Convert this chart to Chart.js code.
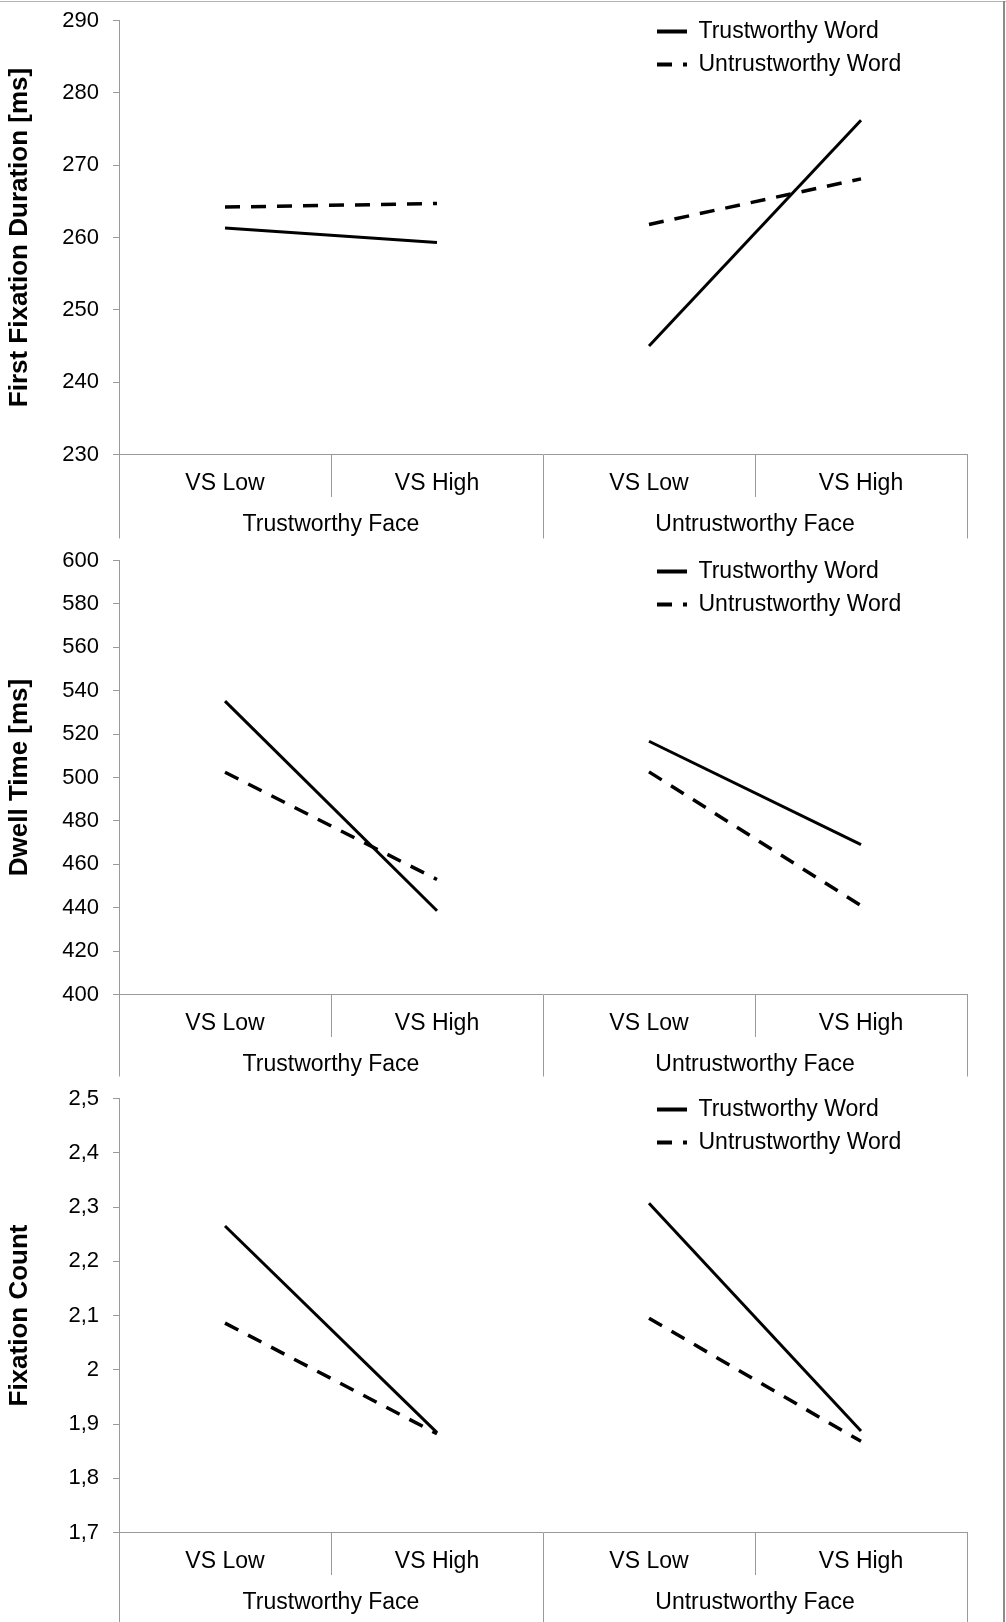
<!DOCTYPE html>
<html lang="en">
<head>
  <meta charset="UTF-8">
  <title>Eye tracking measures by face and word trustworthiness</title>
  <script src="https://cdn.jsdelivr.net/npm/chart.js"></script>
  <style>
    html, body { margin: 0; padding: 0; background: #fff; }
    body { width: 1006px; height: 1622px; position: relative; overflow: hidden; }
    .panel { position: absolute; left: 0; }
    /* thin frame along the top and right edge, like the original figure */
    .edge-top { position: absolute; left: 0; top: 1px; width: 1006px; height: 1px; background: #b4b4b4; }
    .edge-right { position: absolute; left: 1003px; top: 1px; width: 2px; height: 1621px; background: #8c8c8c; }
  </style>
</head>
<body>
  <canvas id="ffd" class="panel" width="1006" height="540" style="top:0px"></canvas>
  <canvas id="dwell" class="panel" width="1006" height="538" style="top:540px"></canvas>
  <canvas id="count" class="panel" width="1006" height="544" style="top:1078px"></canvas>
  <div class="edge-top"></div>
  <div class="edge-right"></div>

  <script>
    // categories and groups
    const categories = ['VS Low', 'VS High', 'VS Low', 'VS High'];
    const faceGroups = ['Trustworthy Face', 'Untrustworthy Face'];
    const seriesNames = ['Trustworthy Word', 'Untrustworthy Word'];

    // First fixation duration [ms]
    const ffdTrustWord = [261.3, 259.3, 245.0, 276.2];
    const ffdUntrustWord = [264.2, 264.7, 261.8, 268.1];
    const ffdTicks = [230, 240, 250, 260, 270, 280, 290];

    // Dwell time [ms]
    const dwellTrustWord = [535.2, 438.6, 516.7, 469.1];
    const dwellUntrustWord = [502.4, 453.0, 502.6, 441.0];
    const dwellTicks = [400, 420, 440, 460, 480, 500, 520, 540, 560, 580, 600];

    // Fixation count
    const countTrustWord = [2.265, 1.884, 2.307, 1.887];
    const countUntrustWord = [2.086, 1.882, 2.095, 1.868];
    const countTicks = [1.7, 1.8, 1.9, 2.0, 2.1, 2.2, 2.3, 2.4, 2.5];

    Chart.defaults.font.family = "'Liberation Sans', Arial, sans-serif";
    Chart.defaults.color = '#000';

    const axisGray = '#9a9a9a';
    const plotTop = 20.5;
    const plotHeight = 434;
    const catAxisHeight = 43;
    const innerSepLength = 42;

    // put the legend in the upper right of the plot area
    const legendSpot = {
      id: 'legendSpot',
      beforeDraw(chart) {
        chart.legend.left = 647;
        chart.legend.top = 10;
      }
    };

    // legend samples should use the dataset's dash pattern
    function legendItems(chart) {
      const items = Chart.defaults.plugins.legend.labels.generateLabels(chart);
      items.forEach(item => {
        const ds = chart.data.datasets[item.datasetIndex];
        item.lineDash = ds.borderDash || [];
        item.lineWidth = 4;
      });
      return items;
    }

    function makePanel(id, title, trust, untrust, yTicks) {
      const canvas = document.getElementById(id);
      const belowPlot = canvas.height - plotTop - plotHeight;
      const groupAxisHeight = belowPlot - catAxisHeight;
      // separators: long ones between the face groups, short ones inside a group
      const sepLength = belowPlot - (id === 'count' ? 0 : 1.5);

      new Chart(canvas, {
        type: 'line',
        data: {
          labels: categories,
          datasets: [
            {
              label: seriesNames[0],
              data: trust,
              borderColor: '#000',
              borderWidth: 3,
              pointRadius: 0,
              // no line between the two face groups
              segment: { borderColor: ctx => ctx.p0DataIndex === 1 ? 'rgba(0,0,0,0)' : undefined }
            },
            {
              label: seriesNames[1],
              data: untrust,
              borderColor: '#000',
              borderWidth: 3.5,
              borderDash: [15, 11],
              pointRadius: 0,
              segment: { borderColor: ctx => ctx.p0DataIndex === 1 ? 'rgba(0,0,0,0)' : undefined }
            }
          ]
        },
        options: {
          responsive: false,
          animation: false,
          layout: { padding: { top: plotTop, right: 39, bottom: 0, left: 0 } },
          plugins: {
            tooltip: { enabled: false },
            legend: {
              position: 'chartArea',
              align: 'start',
              labels: {
                font: { size: 23 },
                color: '#000',
                usePointStyle: true,
                pointStyle: 'line',
                pointStyleWidth: 30,
                padding: 10,
                generateLabels: legendItems
              }
            }
          },
          scales: {
            x: {
              type: 'category',
              offset: true,
              weight: 1,
              afterFit: axis => { axis.height = catAxisHeight; },
              border: { color: axisGray },
              grid: {
                offset: true,
                drawOnChartArea: false,
                tickLength: sepLength,
                color: axisGray,
                tickBorderDash: ctx => ctx.index % 2 === 1 ? [innerSepLength, 1000] : []
              },
              ticks: { font: { size: 23 }, color: '#000', padding: 29 - sepLength - 13.8, maxRotation: 0, autoSkip: false }
            },
            x2: {
              type: 'category',
              position: 'bottom',
              labels: faceGroups,
              offset: true,
              weight: 2,
              afterFit: axis => { axis.height = groupAxisHeight; },
              border: { display: false },
              grid: { display: false, drawTicks: false },
              ticks: { font: { size: 23 }, color: '#000', padding: 27 - 13.8, maxRotation: 0, autoSkip: false }
            },
            y: {
              min: yTicks[0],
              max: yTicks[yTicks.length - 1],
              afterBuildTicks: axis => { axis.ticks = yTicks.map(v => ({ value: v })); },
              afterFit: axis => {
                axis.width = 119;
                axis.paddingTop = 0;
                axis.paddingBottom = 0;
              },
              border: { color: axisGray },
              grid: { drawOnChartArea: false, tickLength: 6, color: axisGray },
              ticks: {
                font: { size: 22 },
                color: '#000',
                padding: 14,
                callback: v => String(Math.round(v * 1000) / 1000).replace('.', ',')
              },
              title: {
                display: true,
                text: title,
                color: '#000',
                font: { size: 26, weight: 'bold' },
                padding: { top: 4, bottom: 0 }
              }
            }
          }
        },
        plugins: [legendSpot]
      });
    }

    makePanel('ffd', 'First Fixation Duration [ms]', ffdTrustWord, ffdUntrustWord, ffdTicks);
    makePanel('dwell', 'Dwell Time [ms]', dwellTrustWord, dwellUntrustWord, dwellTicks);
    makePanel('count', 'Fixation Count', countTrustWord, countUntrustWord, countTicks);
  </script>
</body>
</html>
